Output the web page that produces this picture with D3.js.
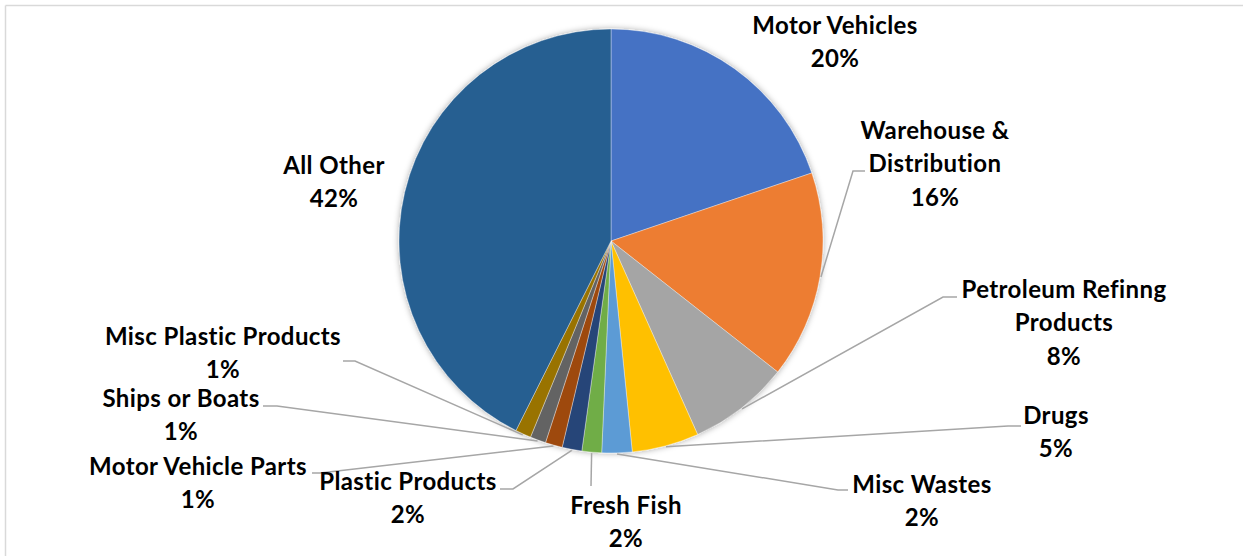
<!DOCTYPE html>
<html>
<head>
<meta charset="utf-8">
<script src="https://cdn.jsdelivr.net/npm/d3@7"></script>
<style>
  html, body { margin: 0; padding: 0; background: #fff; }
  svg { display: block; }
</style>
</head>
<body>
<svg id="chart" width="1243" height="556"></svg>
<script>
// ---- data ----
const categories = ["Motor Vehicles", "Warehouse & Distribution", "Petroleum Refinng Products", "Drugs",
  "Misc Wastes", "Fresh Fish", "Plastic Products", "Motor Vehicle Parts", "Ships or Boats",
  "Misc Plastic Products", "All Other"];
const values = [19.8, 15.8, 7.7, 5.1, 2.3, 1.5, 1.5, 1.3, 1.2, 1.2, 42.6];
const pctLabels = ["20%", "16%", "8%", "5%", "2%", "2%", "2%", "1%", "1%", "1%", "42%"];
const colors = ["#4472C4", "#ED7D31", "#A5A5A5", "#FFC000", "#5B9BD5", "#70AD47",
  "#264478", "#9E480E", "#636363", "#997300", "#255E91"];

// ---- layout (label placement, not data) ----
const labelLines = [
  ["Motor Vehicles"], ["Warehouse &", "Distribution"], ["Petroleum Refinng", "Products"], ["Drugs"],
  ["Misc Wastes"], ["Fresh Fish"], ["Plastic Products"], ["Motor Vehicle Parts"], ["Ships or Boats"],
  ["Misc Plastic Products"], ["All Other"]
];
const labelPos = [
  [835, 34], [935, 139], [1064, 298], [1056, 424], [922, 493], [626, 514],
  [408, 490], [198, 475], [181, 407], [223, 345], [334, 174]
];
// leader: [elbowX, elbowY, endX, endY] or null
const leaders = [
  null, [853, 171, 865, 171], [943, 297, 957, 297], [1008, 426, 1021, 426],
  [838, 490, 848, 490], [591, 486, 591, 486], [513, 489, 500, 489], [320, 473, 312, 473],
  [277, 406, 263, 406], [355, 361, 343, 361], null
];

const svg = d3.select("#chart");
const cx = 611, cy = 241, R = 212;

const defs = svg.append("defs");
const f = defs.append("filter").attr("id", "shadow").attr("x", "-20%").attr("y", "-20%").attr("width", "140%").attr("height", "140%");
f.append("feDropShadow").attr("dx", 0).attr("dy", 0).attr("stdDeviation", 3)
  .attr("flood-color", "#000").attr("flood-opacity", 0.35);

// chart border (top & left visible)
svg.append("line").attr("x1", 5.5).attr("y1", 5.5).attr("x2", 1243).attr("y2", 5.5)
  .attr("stroke", "#D9D9D9").attr("stroke-width", 1.5);
svg.append("line").attr("x1", 5.5).attr("y1", 5.5).attr("x2", 5.5).attr("y2", 556)
  .attr("stroke", "#D9D9D9").attr("stroke-width", 1.5);

const pie = d3.pie().sort(null).value(d => d)(values);
const arc = d3.arc().innerRadius(0).outerRadius(R);

const g = svg.append("g").attr("transform", `translate(${cx},${cy})`);
g.append("g").attr("filter", "url(#shadow)")
  .selectAll("path").data(pie).join("path")
  .attr("d", arc)
  .attr("fill", (d, i) => colors[i])
  .attr("stroke", "#fff").attr("stroke-width", 0.6).attr("stroke-opacity", 0.6);

// leader lines
pie.forEach((d, i) => {
  const L = leaders[i];
  if (!L) return;
  const a = (d.startAngle + d.endAngle) / 2;
  const sx = cx + Math.sin(a) * (R + 1);
  const sy = cy - Math.cos(a) * (R + 1);
  svg.append("polyline")
    .attr("points", `${sx},${sy} ${L[0]},${L[1]} ${L[2]},${L[3]}`)
    .attr("fill", "none").attr("stroke", "#A6A6A6").attr("stroke-width", 1.5);
});

// labels
const lineH = 33.3;
pie.forEach((d, i) => {
  const [x, y] = labelPos[i];
  const t = svg.append("text")
    .attr("text-anchor", "middle")
    .attr("font-family", "Lato, 'Open Sans', sans-serif")
    .attr("font-weight", "bold")
    .attr("font-size", 24)
    .attr("letter-spacing", 0.4)
    .attr("fill", "#000");
  const lines = labelLines[i].concat([pctLabels[i]]);
  lines.forEach((s, k) => {
    t.append("tspan").attr("x", x).attr("y", y + k * lineH).text(s);
  });
});
</script>
</body>
</html>
